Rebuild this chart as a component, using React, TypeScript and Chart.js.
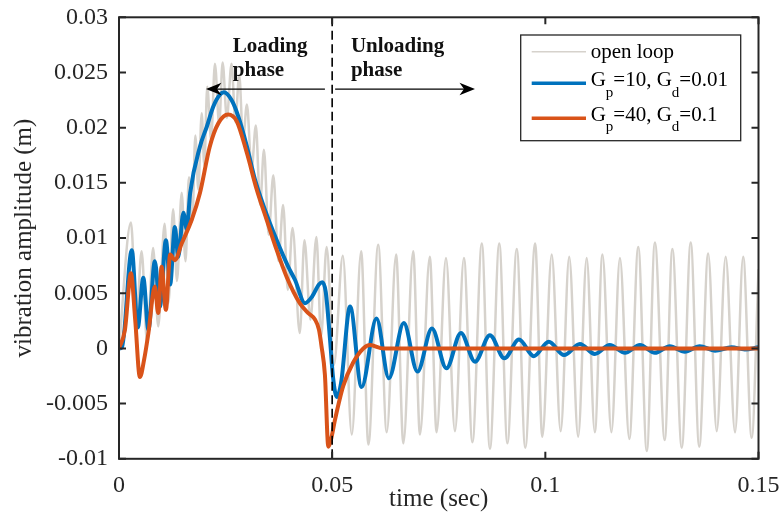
import React, { useEffect, useRef } from 'react';
import { Chart, registerables } from 'chart.js';

Chart.register(...registerables);

// ---------- axis ticks ----------
const xTickValues = [0, 0.05, 0.1, 0.15];
const xTickLabels = ['0', '0.05', '0.1', '0.15'];
const yTickValues = [-0.01, -0.005, 0, 0.005, 0.01, 0.015, 0.02, 0.025, 0.03];
const yTickLabels = ['-0.01', '-0.005', '0', '0.005', '0.01', '0.015', '0.02', '0.025', '0.03'];

// ---------- series: open loop ----------
const openLoopT = [
  0, 0.0028, 0.0041, 0.0053, 0.0066, 0.008, 0.0092, 0.0107, 0.0116, 0.0127, 0.0136, 0.0147, 0.0156,
  0.0164, 0.0172, 0.0179, 0.0186, 0.0194, 0.02, 0.0207, 0.0216, 0.0225, 0.0235, 0.0243, 0.0253,
  0.0264, 0.0273, 0.0282, 0.0291, 0.03, 0.0311, 0.0321, 0.0331, 0.034, 0.0351, 0.0362, 0.0374,
  0.0385, 0.0396, 0.0407, 0.0424, 0.0435, 0.0449, 0.0463, 0.0474, 0.0487, 0.0504,
  0.0525, 0.0546, 0.0568, 0.0585, 0.0608, 0.0628, 0.065, 0.0667, 0.069, 0.0706, 0.0729, 0.0745,
  0.0767, 0.0788, 0.0809, 0.0829, 0.0851, 0.087, 0.0892, 0.0911, 0.0933, 0.0953, 0.0976, 0.0993,
  0.1015, 0.1036, 0.1056, 0.1077, 0.1097, 0.1116, 0.1134, 0.1155, 0.1175, 0.1197, 0.1218, 0.1238,
  0.1257, 0.128, 0.1298, 0.132, 0.1341, 0.1361, 0.1382, 0.1402, 0.1423, 0.1445, 0.1464, 0.1484, 0.15,
];
const openLoopV = [
  0, 0.0114, 0.0028, 0.0088, 0.0005, 0.0091, 0.002, 0.0113, 0.0041, 0.0126, 0.0061, 0.0141, 0.0079,
  0.0155, 0.0115, 0.0193, 0.0144, 0.0213, 0.0166, 0.0237, 0.0189, 0.0258, 0.0203, 0.0259, 0.0209,
  0.0258, 0.0205, 0.0248, 0.0189, 0.0221, 0.0162, 0.0202, 0.013, 0.018, 0.0103, 0.0157, 0.0079,
  0.013, 0.0053, 0.0109, 0.0014, 0.0098, 0.0026, 0.0101, 0.0011, 0.0092, -0.0015,
  0.0084, -0.0078, 0.0088, -0.0087, 0.0094, -0.0076, 0.0085, -0.0086, 0.0088, -0.0078, 0.0083, -0.0076,
  0.0082, -0.0075, 0.0082, -0.0085, 0.0095, -0.0091, 0.0095, -0.0086, 0.009, -0.009, 0.0095, -0.008,
  0.0085, -0.0075, 0.0083, -0.008, 0.0082, -0.0076, 0.0085, -0.0076, 0.0082, -0.0082, 0.0092, -0.0093,
  0.0096, -0.0083, 0.009, -0.009, 0.0096, -0.0089, 0.0086, -0.0075, 0.0083, -0.0076, 0.0083, -0.0081, 0.0071,
];

// ---------- series: Gp=10, Gd=0.01 ----------
const gain1T = [
  0, 0.0007, 0.003, 0.0044, 0.0057, 0.0069, 0.0084, 0.0096, 0.011, 0.012, 0.0131, 0.0139, 0.0151,
  0.0159, 0.0167, 0.019, 0.0206, 0.0221, 0.0237, 0.0246, 0.0264, 0.028, 0.03, 0.0319, 0.0342, 0.037,
  0.0397, 0.0413, 0.0436, 0.0453, 0.0469, 0.0477, 0.0485, 0.0495, 0.0502, 0.0511, 0.0521, 0.0542,
  0.0569, 0.0604, 0.0633, 0.0668, 0.07, 0.0734, 0.0768, 0.0802, 0.0835, 0.087, 0.0904, 0.0938,
  0.0973, 0.1008, 0.1044, 0.1081, 0.1116, 0.1151, 0.1187, 0.1222, 0.1257, 0.1292, 0.1327, 0.1362,
  0.1398, 0.1437, 0.1468, 0.15,
];
const gain1V = [
  0, 0.0001, 0.0089, 0.0019, 0.0064, 0.0017, 0.0079, 0.0038, 0.0098, 0.0058, 0.011, 0.0083, 0.0123,
  0.0108, 0.0141, 0.0183, 0.0201, 0.0219, 0.023, 0.0232, 0.0225, 0.021, 0.0183, 0.0153, 0.0126, 0.0098,
  0.0074, 0.0062, 0.0041, 0.0047, 0.0058, 0.006, 0.0051, 0.0008, -0.0026, -0.0044, -0.0031, 0.0038,
  -0.0035, 0.0027, -0.0027, 0.0023, -0.0021, 0.0018, -0.0018, 0.0014, -0.0012, 0.0012, -0.0009, 0.0008,
  -0.0007, 0.0006, -0.0006, 0.0004, -0.0005, 0.0003, -0.0004, 0.0003, -0.0004, 0.0002, -0.0003, 0.0002,
  -0.0002, 0.0001, -0.0001, 0.0001,
];

// ---------- series: Gp=40, Gd=0.1 ----------
const gain2T = [
  0, 0.0014, 0.0028, 0.0038, 0.0049, 0.0059, 0.0069, 0.0084, 0.0092, 0.01, 0.011, 0.012, 0.0131,
  0.0147, 0.0171, 0.019, 0.0213, 0.0233, 0.0256, 0.0276, 0.03, 0.0323, 0.0346, 0.037, 0.0393, 0.0424,
  0.0444, 0.046, 0.0469, 0.0475, 0.0483, 0.0491, 0.0497, 0.0507, 0.0526, 0.0549, 0.0573, 0.0589,
  0.062, 0.15,
];
const gain2V = [
  0, 0.0017, 0.0068, 0.0026, -0.0026, -0.001, 0.0014, 0.0056, 0.0032, 0.0074, 0.0035, 0.0085, 0.008,
  0.0095, 0.0117, 0.0141, 0.0183, 0.0204, 0.0212, 0.0206, 0.0177, 0.0144, 0.0117, 0.0089, 0.0065, 0.0041,
  0.0032, 0.0026, 0.0017, 0.0002, -0.0024, -0.0089, -0.0083, -0.0064, -0.0034, -0.0013, 0, 0.0003,
  0, 0,
];

const seriesLabels = ['open loop', 'G_{p}=10, G_{d}=0.01', 'G_{p}=40, G_{d}=0.1'];
const seriesColors = ['rgb(214,210,204)', '#0072BD', '#D95319'];

// ---------- annotations (data units) ----------
const dividerT = 0.05;
const arrowY = 0.0235;
const leftArrowT = [0.0483, 0.0204];
const rightArrowT = [0.0507, 0.0835];
const phaseTexts = [
  { text: 'Loading', t: 0.0267, v: 0.0269 },
  { text: 'phase', t: 0.0267, v: 0.0247 },
  { text: 'Unloading', t: 0.0544, v: 0.0269 },
  { text: 'phase', t: 0.0544, v: 0.0247 },
];

const SERIF = '"Liberation Serif", "Times New Roman", serif';
const AXIS_COLOR = '#262626';

const zip = (t: number[], v: number[]) => t.map((x, i) => ({ x, y: v[i] }));

function parseLabel(s: string) {
  const parts: { text: string; sub: boolean }[] = [];
  const re = /_\{([^}]*)\}/g;
  let last = 0;
  let m: RegExpExecArray | null;
  while ((m = re.exec(s))) {
    if (m.index > last) parts.push({ text: s.slice(last, m.index), sub: false });
    parts.push({ text: m[1], sub: true });
    last = m.index + m[0].length;
  }
  if (last < s.length) parts.push({ text: s.slice(last), sub: false });
  return parts;
}

function drawArrow(ctx: CanvasRenderingContext2D, x0: number, x1: number, yy: number) {
  const dir = Math.sign(x1 - x0);
  const L = 15.5;
  const W = 6.3;
  const notch = 4.5;
  ctx.beginPath();
  ctx.moveTo(x0, yy);
  ctx.lineTo(x1 - dir * (L - notch), yy);
  ctx.stroke();
  ctx.beginPath();
  ctx.moveTo(x1, yy);
  ctx.lineTo(x1 - dir * L, yy - W);
  ctx.lineTo(x1 - dir * (L - notch), yy);
  ctx.lineTo(x1 - dir * L, yy + W);
  ctx.closePath();
  ctx.fill();
}

const decorPlugin = {
  id: 'decor',
  afterDatasetsDraw(chart: any) {
    const { ctx, chartArea: a, scales } = chart;
    const xs = scales.x;
    const ys = scales.y;
    ctx.save();

    // dashed divider
    const xd = xs.getPixelForValue(dividerT);
    ctx.strokeStyle = '#000';
    ctx.lineWidth = 1.6;
    ctx.setLineDash([9, 4.5]);
    ctx.beginPath();
    ctx.moveTo(xd, a.top);
    ctx.lineTo(xd, a.bottom);
    ctx.stroke();
    ctx.setLineDash([]);

    // arrows
    const ay = ys.getPixelForValue(arrowY);
    ctx.lineWidth = 1.3;
    ctx.strokeStyle = '#000';
    ctx.fillStyle = '#000';
    drawArrow(ctx, xs.getPixelForValue(leftArrowT[0]), xs.getPixelForValue(leftArrowT[1]), ay);
    drawArrow(ctx, xs.getPixelForValue(rightArrowT[0]), xs.getPixelForValue(rightArrowT[1]), ay);

    // phase texts
    ctx.font = `bold 21px ${SERIF}`;
    ctx.textAlign = 'left';
    ctx.textBaseline = 'alphabetic';
    ctx.fillStyle = '#111';
    for (const p of phaseTexts) {
      ctx.fillText(p.text, xs.getPixelForValue(p.t), ys.getPixelForValue(p.v));
    }

    // box
    ctx.strokeStyle = AXIS_COLOR;
    ctx.lineWidth = 2;
    ctx.strokeRect(a.left, a.top, a.right - a.left, a.bottom - a.top);

    // inward ticks on all four sides
    const TL = 7;
    ctx.beginPath();
    for (const v of xTickValues) {
      const px = xs.getPixelForValue(v);
      ctx.moveTo(px, a.bottom);
      ctx.lineTo(px, a.bottom - TL);
      ctx.moveTo(px, a.top);
      ctx.lineTo(px, a.top + TL);
    }
    for (const v of yTickValues) {
      const py = ys.getPixelForValue(v);
      ctx.moveTo(a.left, py);
      ctx.lineTo(a.left + TL, py);
      ctx.moveTo(a.right, py);
      ctx.lineTo(a.right - TL, py);
    }
    ctx.stroke();

    // legend
    const bw = 220;
    const bh = 105.7;
    const lx = a.right - 17.8 - bw;
    const ly = a.top + 17.7;
    ctx.fillStyle = '#fff';
    ctx.fillRect(lx, ly, bw, bh);
    ctx.strokeStyle = AXIS_COLOR;
    ctx.lineWidth = 1.3;
    ctx.strokeRect(lx, ly, bw, bh);

    const entries = [
      { lineY: 16.7, base: 23, width: 1.5 },
      { lineY: 48.3, base: 51, width: 3.5 },
      { lineY: 83.3, base: 85.7, width: 3.5 },
    ];
    entries.forEach((e, i) => {
      ctx.strokeStyle = seriesColors[i];
      ctx.lineWidth = e.width;
      ctx.beginPath();
      ctx.moveTo(lx + 11, ly + e.lineY);
      ctx.lineTo(lx + 65.3, ly + e.lineY);
      ctx.stroke();
      let tx = lx + 70;
      ctx.fillStyle = '#000';
      ctx.textBaseline = 'alphabetic';
      for (const part of parseLabel(seriesLabels[i])) {
        ctx.font = part.sub ? `15px ${SERIF}` : `21px ${SERIF}`;
        ctx.fillText(part.text, tx, ly + e.base + (part.sub ? 10.5 : 0));
        tx += ctx.measureText(part.text).width;
      }
    });

    ctx.restore();
  },
};

export default function App() {
  const canvasRef = useRef<HTMLCanvasElement | null>(null);

  useEffect(() => {
    if (!canvasRef.current) return;
    const tickFont = { family: SERIF, size: 24 };
    const titleFont = { family: SERIF, size: 25 };
    const chart = new Chart(canvasRef.current, {
      type: 'line',
      data: {
        datasets: [
          {
            label: seriesLabels[0],
            data: zip(openLoopT, openLoopV),
            borderColor: seriesColors[0],
            borderWidth: 2.5,
            order: 3,
          },
          {
            label: seriesLabels[1],
            data: zip(gain1T, gain1V),
            borderColor: seriesColors[1],
            borderWidth: 4,
            order: 2,
          },
          {
            label: seriesLabels[2],
            data: zip(gain2T, gain2V),
            borderColor: seriesColors[2],
            borderWidth: 4,
            order: 1,
          },
        ].map((d) => ({
          ...d,
          pointRadius: 0,
          fill: false,
          cubicInterpolationMode: 'monotone' as const,
          borderJoinStyle: 'round' as const,
          borderCapStyle: 'round' as const,
        })),
      },
      options: {
        animation: false,
        responsive: false,
        devicePixelRatio: 1,
        layout: { padding: { top: 17.3, right: 22.5, bottom: 0, left: 0 } },
        plugins: { legend: { display: false }, tooltip: { enabled: false } },
        scales: {
          x: {
            type: 'linear',
            min: 0,
            max: 0.15,
            afterBuildTicks: (s: any) => {
              s.ticks = xTickValues.map((value) => ({ value }));
            },
            afterFit: (s: any) => {
              s.height = 56.2;
              s.paddingLeft = 0;
              s.paddingRight = 0;
            },
            ticks: {
              callback: (_v: any, i: number) => xTickLabels[i],
              font: tickFont,
              color: AXIS_COLOR,
              padding: 13,
              maxRotation: 0,
              autoSkip: false,
            },
            grid: { display: false, drawTicks: false },
            border: { display: false },
            title: {
              display: true,
              text: 'time (sec)',
              font: titleFont,
              color: AXIS_COLOR,
              padding: { top: 0, bottom: 1 },
            },
          },
          y: {
            type: 'linear',
            min: -0.01,
            max: 0.03,
            afterBuildTicks: (s: any) => {
              s.ticks = yTickValues.map((value) => ({ value }));
            },
            afterFit: (s: any) => {
              s.width = 119;
              s.paddingTop = 0;
              s.paddingBottom = 0;
            },
            ticks: {
              callback: (_v: any, i: number) => yTickLabels[i],
              font: tickFont,
              color: AXIS_COLOR,
              padding: 11,
              autoSkip: false,
            },
            grid: { display: false, drawTicks: false },
            border: { display: false },
            title: {
              display: true,
              text: 'vibration amplitude (m)',
              font: titleFont,
              color: AXIS_COLOR,
              padding: { top: 9, bottom: 0 },
            },
          },
        },
      },
      plugins: [decorPlugin],
    } as any);
    return () => chart.destroy();
  }, []);

  return (
    <div style={{ position: 'absolute', left: 0, top: 0, width: 781, height: 515, background: '#fff' }}>
      <canvas ref={canvasRef} width={781} height={515} />
    </div>
  );
}
